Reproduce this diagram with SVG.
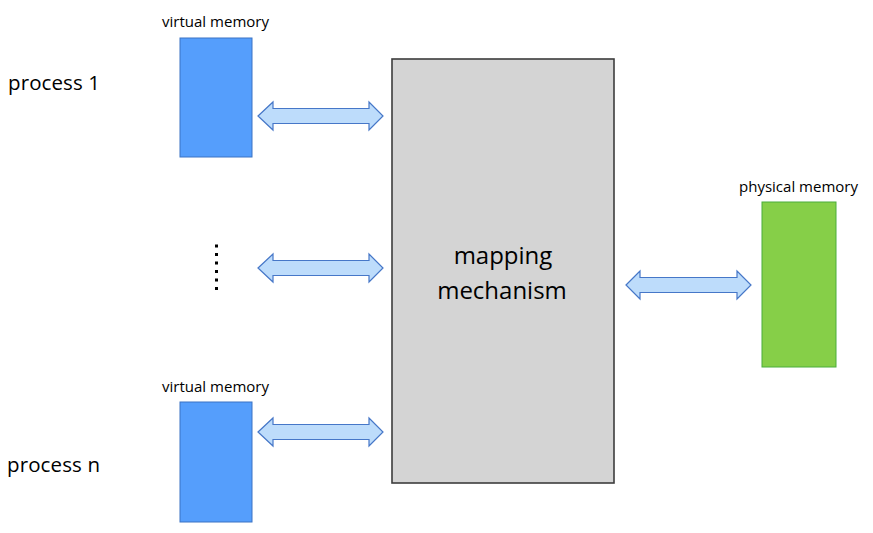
<svg xmlns="http://www.w3.org/2000/svg" width="873" height="533" viewBox="0 0 873 533">
<defs>
<style>
.lbl{font-family:"Open Sans","Noto Sans","Liberation Sans",sans-serif;fill:#000}
.proc{font-size:20.5px}
.small{font-size:15px}
.big{font-size:24px}
.vm{fill:#559efc;stroke:#3b73c4;stroke-width:1}
.pm{fill:#86cf48;stroke:#4aae3a;stroke-width:1}
.mm{fill:#d4d4d4;stroke:#3c3c3c;stroke-width:1.6}
.arr{fill:#bddcfb;stroke:#4677c8;stroke-width:1.2;stroke-linejoin:miter}
.dot{fill:#000}
</style>
</defs>
<rect width="873" height="533" fill="#fff"/>
<g id="process1-label"><text class="lbl proc" x="8" y="90" textLength="92">process 1</text></g>
<g id="processn-label"><text class="lbl proc" x="7" y="472" textLength="93">process n</text></g>
<g id="vm1">
<text class="lbl small" x="162" y="27" textLength="107" lengthAdjust="spacingAndGlyphs">virtual memory</text>
<rect class="vm" x="180" y="38" width="72" height="119"/>
</g>
<g id="vmn">
<text class="lbl small" x="162" y="392" textLength="107" lengthAdjust="spacingAndGlyphs">virtual memory</text>
<rect class="vm" x="180" y="402" width="72" height="120"/>
</g>
<g id="ellipsis">
<rect class="dot" x="215" y="244.5" width="3" height="3"/>
<rect class="dot" x="215" y="253" width="3" height="3"/>
<rect class="dot" x="215" y="261.5" width="3" height="3"/>
<rect class="dot" x="215" y="270" width="3" height="3"/>
<rect class="dot" x="215" y="278.5" width="3" height="3"/>
<rect class="dot" x="215" y="287" width="3" height="3"/>
</g>
<g id="mapping">
<rect class="mm" x="392" y="59" width="222" height="424"/>
<text class="lbl big" x="503" y="264" text-anchor="middle">mapping</text>
<text class="lbl big" x="502" y="299" text-anchor="middle">mechanism</text>
</g>
<g id="physical">
<text class="lbl small" x="739" y="192" textLength="119" lengthAdjust="spacingAndGlyphs">physical memory</text>
<rect class="pm" x="762" y="202" width="74" height="165"/>
</g>
<g id="connectors">
<path class="arr" d="M258,116 L273,102 L273,108.5 L369,108.5 L369,102 L383,116 L369,130 L369,123.5 L273,123.5 L273,130 Z"/>
<path class="arr" d="M258,268 L273,254 L273,260.5 L369,260.5 L369,254 L383,268 L369,282 L369,275.5 L273,275.5 L273,282 Z"/>
<path class="arr" d="M258,432 L273,418 L273,424.5 L369,424.5 L369,418 L383,432 L369,446 L369,439.5 L273,439.5 L273,446 Z"/>
<path class="arr" d="M626,285 L640,271 L640,277.5 L737,277.5 L737,271 L751,285 L737,299 L737,292.5 L640,292.5 L640,299 Z"/>
</g>
</svg>
